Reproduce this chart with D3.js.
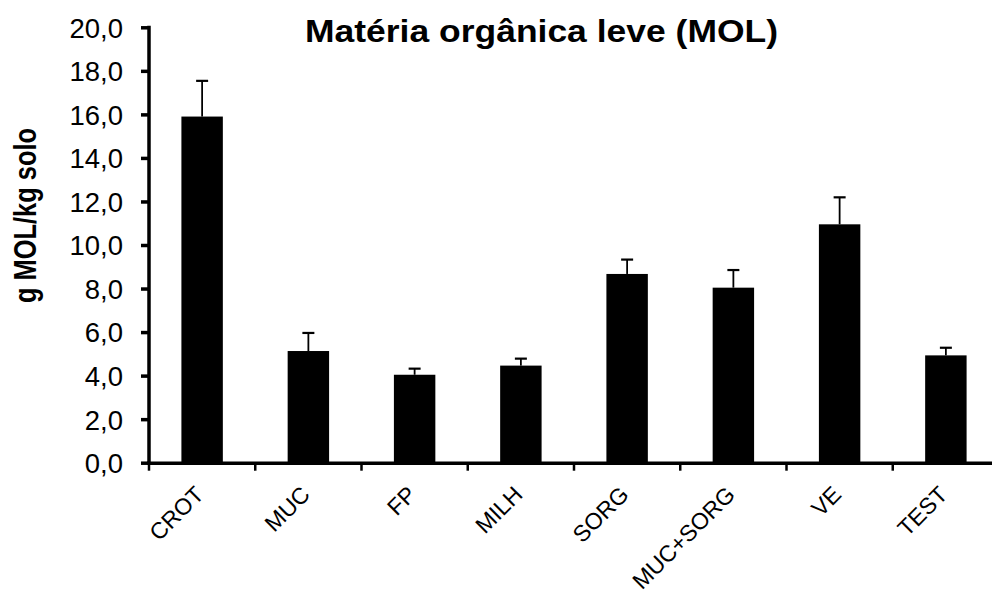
<!DOCTYPE html>
<html>
<head>
<meta charset="utf-8">
<script src="https://cdn.jsdelivr.net/npm/d3@7/dist/d3.min.js"></script>
<style>
  html, body { margin: 0; padding: 0; background: #fff; }
  svg { display: block; }
  text { font-family: "Liberation Sans", Arial, sans-serif; fill: #000; }
</style>
</head>
<body>
<svg id="chart" width="992" height="592"></svg>
<script>
const categories = ["CROT", "MUC", "FP", "MILH", "SORG", "MUC+SORG", "VE", "TEST"];
const means = [15.9, 5.13, 4.04, 4.46, 8.67, 8.04, 10.95, 4.93];
const errors = [1.64, 0.83, 0.28, 0.32, 0.66, 0.81, 1.24, 0.35];
const yTicks = [0, 2, 4, 6, 8, 10, 12, 14, 16, 18, 20];
const titleText = "Matéria orgânica leve (MOL)";
const yLabelText = "g MOL/kg solo";

const svg = d3.select("#chart");
const x0 = 149, x1 = 999, yBottom = 462.7, yTop = 27.3;

const y = d3.scaleLinear().domain([0, 20]).range([yBottom, yTop]);
const xBand = d3.scaleBand().domain(categories).range([x0, x1]).paddingInner(0.61).paddingOuter(0.305);
const xCell = d3.scaleBand().domain(categories).range([x0, x1]).padding(0);

const fmt = d => d.toFixed(1).replace(".", ",");

// bars
svg.append("g").selectAll("rect").data(categories).join("rect")
  .attr("x", c => xBand(c))
  .attr("width", xBand.bandwidth())
  .attr("y", (c, i) => y(means[i]))
  .attr("height", (c, i) => y(0) - y(means[i]))
  .attr("fill", "#000");

// error bars
const eg = svg.append("g").attr("stroke", "#000");
categories.forEach((c, i) => {
  const cx = xBand(c) + xBand.bandwidth() / 2;
  eg.append("line").attr("x1", cx).attr("x2", cx)
    .attr("y1", y(means[i])).attr("y2", y(means[i] + errors[i])).attr("stroke-width", 1.8);
  eg.append("line").attr("x1", cx - 6).attr("x2", cx + 6)
    .attr("y1", y(means[i] + errors[i])).attr("y2", y(means[i] + errors[i])).attr("stroke-width", 2.2);
});

// y axis
const yAxis = d3.axisLeft(y).tickValues(yTicks).tickFormat(fmt).tickSize(8).tickPadding(18);
const gy = svg.append("g").attr("transform", `translate(${x0},0)`).call(yAxis);
gy.select(".domain").attr("stroke-width", 3.5).attr("d", `M0,${yTop - 1.5}V${yBottom + 2}`);
gy.selectAll(".tick line").attr("stroke-width", 3.5).attr("x2", -8);
gy.selectAll(".tick text").attr("font-size", 27.5).attr("font-family", "Liberation Sans, Arial, sans-serif").attr("dy", "0.36em");

// x axis
const gx = svg.append("g");
gx.append("line").attr("x1", x0 - 2).attr("x2", x1).attr("y1", yBottom + 0.5).attr("y2", yBottom + 0.5)
  .attr("stroke", "#000").attr("stroke-width", 3.5);
const tickXs = categories.map(c => xCell(c)).concat([x1]);
gx.selectAll("line.tk").data(tickXs).join("line").attr("class", "tk")
  .attr("x1", d => d).attr("x2", d => d)
  .attr("y1", yBottom).attr("y2", yBottom + 8)
  .attr("stroke", "#000").attr("stroke-width", 2.5);
gx.selectAll("text").data(categories).join("text")
  .attr("transform", c => `translate(${xCell(c) + xCell.bandwidth() / 2 + 3},496) rotate(-45)`)
  .attr("text-anchor", "end")
  .attr("font-size", 23)
  .text(c => c);

// title
svg.append("text")
  .attr("x", 305).attr("y", 42)
  .attr("font-size", 31).attr("font-weight", "bold")
  .attr("textLength", 473).attr("lengthAdjust", "spacingAndGlyphs")
  .text(titleText);

// y label
svg.append("text")
  .attr("transform", "translate(36,303) rotate(-90)")
  .attr("font-size", 31).attr("font-weight", "bold")
  .attr("textLength", 175).attr("lengthAdjust", "spacingAndGlyphs")
  .text(yLabelText);
</script>
</body>
</html>
